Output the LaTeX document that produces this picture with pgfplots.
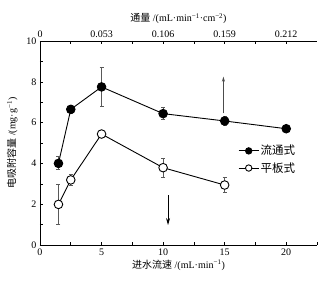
\documentclass[border=0pt]{standalone}
\usepackage{fontspec}
\setmainfont{Liberation Serif}
\newfontfamily\cjk{Noto Sans CJK SC}
\usepackage{pgfplots}
\pgfplotsset{compat=1.18}
\usetikzlibrary{arrows.meta}
\begin{document}
\fontsize{10}{12}\selectfont
\begin{tikzpicture}
\pgfplotsset{
  common/.style={
    scale only axis, width=277pt, height=204pt,
    xmin=0, xmax=22.5, ymin=0, ymax=10,
    tick align=inside,
    major tick length=3pt, minor tick length=3pt,
    axis line style={-, line width=0.8pt},
    every tick/.style={black, line width=0.6pt},
    /pgf/number format/assume math mode=true,
    tick label style={font=\fontsize{10}{12}\selectfont},
    label style={font=\fontsize{10}{12}\selectfont},
  }
}
\begin{axis}[common,
  axis x line*=bottom, axis y line*=left,
  xtick={0,5,10,15,20}, minor xtick={2.5,7.5,12.5,17.5,22.5},
  ytick={0,2,4,6,8,10}, minor ytick={1,3,5,7,9},
  xlabel={{\cjk 进水流速} /(mL·min\textsuperscript{−1})},
  ylabel={{\cjk 电吸附容量} /(mg·g\textsuperscript{−1})},
  xlabel style={yshift=2pt},
  ylabel style={yshift=2pt},
  legend style={draw=none, fill=none, at={(0.715,0.497)}, anchor=north west,
    font=\cjk\fontsize{11.5}{13}\selectfont, row sep=3pt,
    inner sep=0pt, nodes={inner sep=1.5pt}},
  legend image code/.code={
    \draw[#1, mark=none] (0pt,0pt) -- (20pt,0pt);
    \draw[#1, mark size=3.2pt, only marks] plot coordinates {(10pt,0pt)};
  },
  legend cell align=left,
  clip=false,
]
\addplot[black, line width=0.9pt, mark=*, mark size=4.3pt,
  mark options={fill=black, draw=black},
  error bars/.cd, y dir=both, y explicit,
  error bar style={black!65, line width=0.9pt},
  error mark options={rotate=90, mark size=2pt, black!65, line width=0.9pt}]
  coordinates {
  (1.5,4.00) +- (0,0.32)
  (2.5,6.65) +- (0,0.20)
  (5,7.75) +- (0,0.94)
  (10,6.44) +- (0,0.30)
  (15,6.08) +- (0,0.20)
  (20,5.70) +- (0,0.08)
  };
\addlegendentry{流通式}
\addplot[black, line width=0.9pt, mark=*, mark size=4.3pt,
  mark options={fill=white, draw=black},
  error bars/.cd, y dir=both, y explicit,
  error bar style={black!65, line width=0.9pt},
  error mark options={rotate=90, mark size=2pt, black!65, line width=0.9pt}]
  coordinates {
  (1.5,1.99) +- (0,1.00)
  (2.5,3.19) +- (0,0.28)
  (5,5.44) +- (0,0.15)
  (10,3.79) +- (0,0.46)
  (15,2.94) +- (0,0.37)
  };
\addlegendentry{平板式}
\draw[-{Stealth[length=5pt,width=3pt]}, black!70, line width=0.6pt] (axis cs:14.9,6.45) -- (axis cs:14.9,8.25);
\draw[-{Stealth[length=7pt,width=4pt]}, black, line width=0.8pt] (axis cs:10.4,2.45) -- (axis cs:10.4,0.98);
\end{axis}
\begin{axis}[common,
  axis x line*=top, hide y axis,
  xtick={0,5,10,15,20}, minor xtick={2.5,7.5,12.5,17.5},
  xticklabels={0,0.053,0.106,0.159,0.212},
  xlabel={{\cjk 通量} /(mL·min\textsuperscript{−1}·cm\textsuperscript{−2})},
]
\end{axis}
\path ([xshift=-40pt,yshift=-39pt]current axis.south west) rectangle ([xshift=12pt,yshift=41pt]current axis.north east);
\end{tikzpicture}
\end{document}
